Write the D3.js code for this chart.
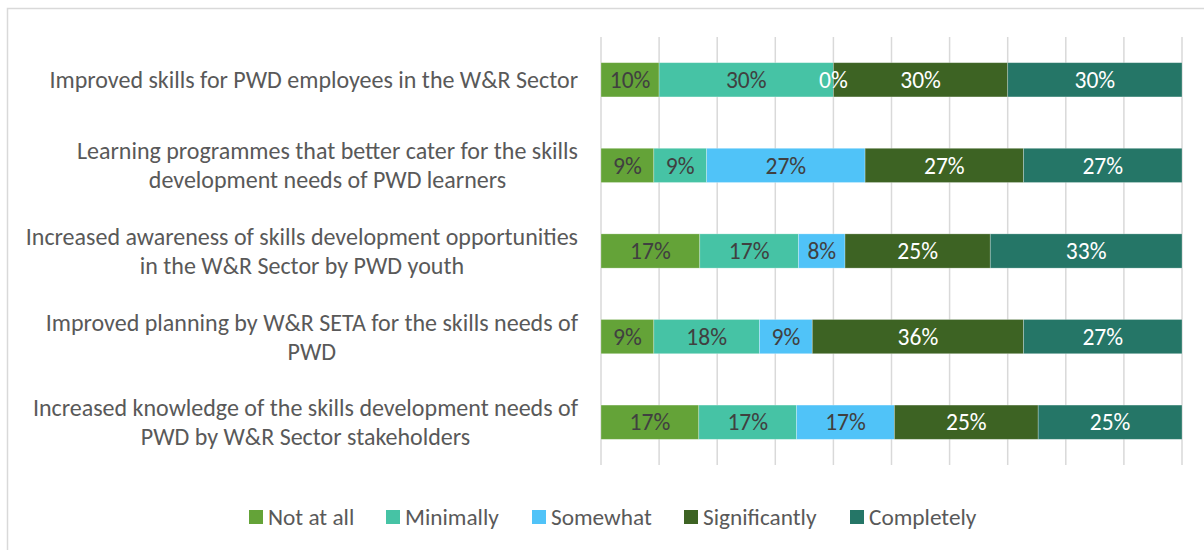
<!DOCTYPE html>
<html>
<head>
<meta charset="utf-8">
<script src="https://cdn.jsdelivr.net/npm/d3@7"></script>
<style>
  html, body { margin: 0; padding: 0; background: #fff; }
  svg { display: block; }
  text { font-family: Carlito, Calibri, Lato, "Open Sans", sans-serif; }
</style>
</head>
<body>
<svg id="chart" width="1204" height="550"></svg>
<script>
// Survey outcomes for PWD skills development, shares per response level
const categories = [
  ["Improved skills for PWD employees in the W&R Sector"],
  ["Learning programmes that better cater for the skills", "development needs of PWD learners"],
  ["Increased awareness of skills development opportunities", "in the W&R Sector by PWD youth"],
  ["Improved planning by W&R SETA for the skills needs of", "PWD"],
  ["Increased knowledge of the skills development needs of", "PWD by W&R Sector stakeholders"]
];
const seriesNames = ["Not at all", "Minimally", "Somewhat", "Significantly", "Completely"];
const notAtAll      = [10,  9, 17,  9, 17];
const minimally     = [30,  9, 17, 18, 17];
const somewhat      = [ 0, 27,  8,  9, 17];
const significantly = [30, 27, 25, 36, 25];
const completely    = [30, 27, 33, 27, 25];
const colors = ["#64a338", "#46c3a5", "#50c3f8", "#3d6323", "#257667"];
const labelColors = ["#404040", "#404040", "#404040", "#ffffff", "#ffffff"];
const gridTicks = [0, 0.1, 0.2, 0.3, 0.4, 0.5, 0.6, 0.7, 0.8, 0.9, 1];

const valuesBySeries = [notAtAll, minimally, somewhat, significantly, completely];
const rows = categories.map((c, i) => {
  const r = { idx: i };
  seriesNames.forEach((s, j) => { r[s] = valuesBySeries[j][i]; });
  return r;
});

const svg = d3.select("#chart");

// chart frame
svg.append("rect")
  .attr("x", 7.5).attr("y", 8.5)
  .attr("width", 1220).attr("height", 560)
  .attr("fill", "none").attr("stroke", "#d9d9d9").attr("stroke-width", 1.5);

const plot = { left: 601, right: 1182, top: 37, bottom: 465 };

const x = d3.scaleLinear().domain([0, 1]).range([plot.left, plot.right]);
const y = d3.scaleBand()
  .domain(rows.map(r => r.idx))
  .range([plot.top, plot.bottom])
  .paddingInner(0.6).paddingOuter(0.3);

// vertical gridlines
svg.append("g").selectAll("line").data(gridTicks).join("line")
  .attr("x1", d => x(d)).attr("x2", d => x(d))
  .attr("y1", plot.top).attr("y2", plot.bottom)
  .attr("stroke", "#d9d9d9").attr("stroke-width", 1.5);

// 100% stacked bars
const stack = d3.stack().keys(seriesNames).offset(d3.stackOffsetExpand);
const layers = stack(rows);

const layerG = svg.append("g").selectAll("g").data(layers).join("g")
  .attr("fill", (d, i) => colors[i]);

layerG.selectAll("rect").data(d => d).join("rect")
  .attr("x", d => x(d[0]))
  .attr("width", d => Math.max(0, x(d[1]) - x(d[0])))
  .attr("y", d => y(d.data.idx))
  .attr("height", y.bandwidth())
  .attr("stroke", "rgba(255,255,255,0.35)")
  .attr("stroke-width", 0.75);

// value labels
layers.forEach((layer, i) => {
  svg.append("g").selectAll("text").data(layer).join("text")
    .attr("x", d => (x(d[0]) + x(d[1])) / 2)
    .attr("y", d => y(d.data.idx) + y.bandwidth() / 2)
    .attr("dy", "0.35em")
    .attr("text-anchor", "middle")
    .attr("font-size", 23.5)
    .attr("fill", d => d.data[layer.key] === 0 ? "#ffffff" : labelColors[i])
    .text(d => d.data[layer.key] + "%");
});

// category labels: block right-aligned to the axis, lines centred in the block
const labelRight = 578;
const lineGap = 29;
const catG = svg.append("g");
categories.forEach((lines, i) => {
  const g = catG.append("g");
  const cy = y(i) + y.bandwidth() / 2;
  const texts = lines.map((line, k) =>
    g.append("text")
      .attr("y", cy + (k - (lines.length - 1) / 2) * lineGap)
      .attr("dy", "0.35em")
      .attr("font-size", 24)
      .attr("fill", "#595959")
      .attr("text-anchor", "middle")
      .text(line));
  const maxW = d3.max(texts, t => t.node().getComputedTextLength());
  texts.forEach(t => t.attr("x", labelRight - maxW / 2));
});

// legend
const legendX = [249, 386, 532, 684, 850];
const legendY = 517;
const leg = svg.append("g").selectAll("g").data(seriesNames).join("g")
  .attr("transform", (d, i) => `translate(${legendX[i]},${legendY})`);
leg.append("rect")
  .attr("x", 0).attr("y", -7).attr("width", 14).attr("height", 14)
  .attr("fill", (d, i) => colors[i]);
leg.append("text")
  .attr("x", 19).attr("dy", "0.35em")
  .attr("font-size", 23.3).attr("fill", "#595959")
  .text(d => d);
</script>
</body>
</html>
